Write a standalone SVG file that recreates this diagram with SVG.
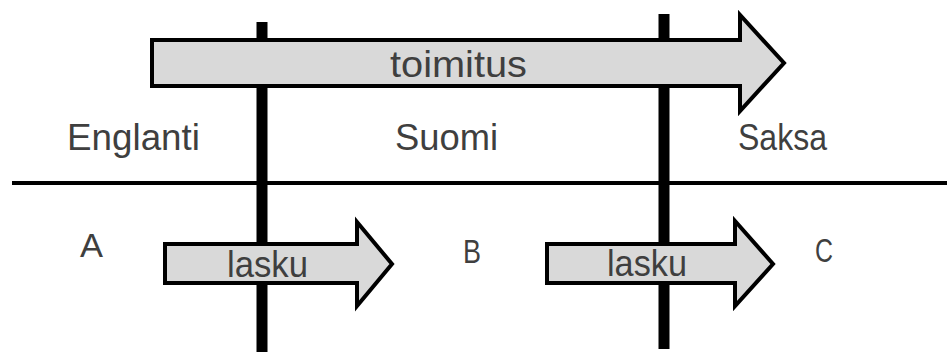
<svg xmlns="http://www.w3.org/2000/svg" width="947" height="352" viewBox="0 0 947 352">
<style>
.arrow{fill:#d9d9d9;stroke:#000;stroke-width:4;stroke-linejoin:miter}
.lbl{font-family:"Liberation Sans",Arial,sans-serif;font-size:37px;fill:#3f3f3f}
.sm{font-size:34px}
.div{stroke:#000;fill:none}
</style>
<rect width="947" height="352" fill="#fff"/>
<g id="connectors">
<line class="div" x1="12" y1="183" x2="947" y2="183" stroke-width="4"/>
<line class="div" x1="262" y1="22" x2="262" y2="352" stroke-width="11"/>
<line class="div" x1="664" y1="14" x2="664" y2="349" stroke-width="11"/>
</g>
<g id="toimitus">
<polygon class="arrow" points="152,40 740,40 740,15 784,63 740,111 740,86 152,86"/>
<text class="lbl" x="390" y="77" textLength="137" lengthAdjust="spacingAndGlyphs">toimitus</text>
</g>
<g id="lasku1">
<polygon class="arrow" points="165,244 357,244 357,222 392,264 357,306 357,283 165,283"/>
<text class="lbl" x="227" y="277" textLength="81" lengthAdjust="spacingAndGlyphs">lasku</text>
</g>
<g id="lasku2">
<polygon class="arrow" points="547,244 735,244 735,221 773,264 735,306 735,283 547,283"/>
<text class="lbl" x="607" y="276" textLength="80" lengthAdjust="spacingAndGlyphs">lasku</text>
</g>
<g id="englanti"><text class="lbl" x="67" y="150" textLength="133" lengthAdjust="spacingAndGlyphs">Englanti</text></g>
<g id="suomi"><text class="lbl" x="395" y="150" textLength="103" lengthAdjust="spacingAndGlyphs">Suomi</text></g>
<g id="saksa"><text class="lbl" x="738" y="150" textLength="89" lengthAdjust="spacingAndGlyphs">Saksa</text></g>
<g id="A"><text class="lbl sm" x="80" y="257" textLength="23" lengthAdjust="spacingAndGlyphs">A</text></g>
<g id="B"><text class="lbl sm" x="463" y="263" textLength="18" lengthAdjust="spacingAndGlyphs">B</text></g>
<g id="C"><text class="lbl sm" x="815" y="262" textLength="18" lengthAdjust="spacingAndGlyphs">C</text></g>
</svg>
